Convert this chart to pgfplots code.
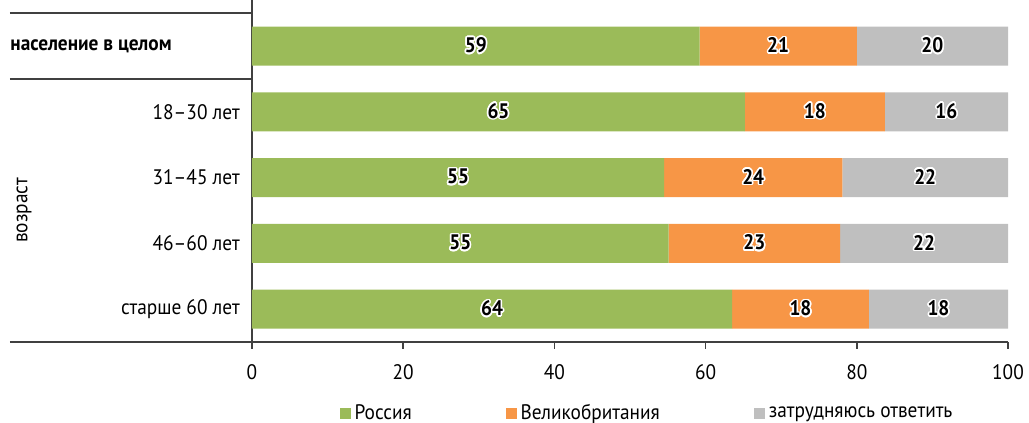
\documentclass[border=0pt]{standalone}
\usepackage{fontspec}
\setmainfont{PT Sans}[FakeStretch=0.92]
\usepackage{pgfplots}
\pgfplotsset{compat=1.18}
\usepackage{pgfplotstable}
\usepackage{contour}
\contourlength{0.8pt}
\definecolor{cGreen}{HTML}{9BBB59}
\definecolor{cOrange}{HTML}{F79646}
\definecolor{cGray}{HTML}{BFBFBF}
\definecolor{cLine}{HTML}{404040}
\newcommand{\fs}{\fontsize{10.5}{12.5}\selectfont}

% bar lengths
\pgfplotstableread{
y   ru    uk    dk
4   59.2  20.8  20.0
3   65.2  18.5  16.3
2   54.5  23.6  21.9
1   55.1  22.7  22.2
0   63.5  18.1  18.4
}\bars
% label positions (segment centres) and printed values
\pgfplotstableread{
y   xr     lr  xu     lu  xd     ld
4   29.6   59  69.6   21  90.0   20
3   32.6   65  74.45  18  91.85  16
2   27.25  55  66.3   24  89.05  22
1   27.55  55  66.45  23  88.9   22
0   31.75  64  72.55  18  90.8   18
}\labels

\begin{document}
\begin{tikzpicture}
\useasboundingbox (-126pt,-40.5pt) rectangle (388.5pt,171pt);
\pgfplotsset{
  base/.style={
    width=378pt, height=171pt, scale only axis,
    xmin=0, xmax=100, ymin=-0.5, ymax=4.7,
  }
}
\begin{axis}[
  base,
  xbar stacked,
  bar width=19.5pt,
  axis x line=bottom, axis y line=left,
  axis line style={-, cLine, line width=0.75pt},
  xtick={0,20,40,60,80,100},
  tick align=outside,
  major tick length=3.5pt,
  xtick style={cLine, line width=0.75pt},
  ytick={0,1,2,3},
  yticklabels={старше 60 лет, 46–60 лет, 31–45 лет, 18–30 лет},
  ytick style={draw=none},
  /pgf/number format/assume math mode=true,
  tick label style={font=\fs, black},
  xticklabel style={yshift=-4pt},
  yticklabel style={xshift=1pt},
  clip=false,
  legend style={draw=none, at={(0.5238,-0.208)}, anchor=center,
    font=\fs,
    /tikz/every even column/.append style={column sep=45pt}},
  legend columns=3,
  legend image code/.code={\fill[#1] (0pt,-2.75pt) rectangle (5.5pt,2.75pt);},
]
\addplot[fill=cGreen, draw=none] table[x=ru, y=y] {\bars};
\addplot[fill=cOrange, draw=none] table[x=uk, y=y] {\bars};
\addplot[fill=cGray, draw=none] table[x=dk, y=y] {\bars};
\legend{Россия, Великобритания, затрудняюсь ответить}
\draw[cLine, line width=0.75pt] ([xshift=-121pt]axis cs:0,4.5) -- (axis cs:0,4.5);
\draw[cLine, line width=0.75pt] ([xshift=-121pt]axis cs:0,3.5) -- (axis cs:0,3.5);
\draw[cLine, line width=0.75pt] ([xshift=-121pt]axis cs:0,-0.5) -- (axis cs:0,-0.5);
\node[anchor=west, inner sep=0pt, font=\bfseries\fs] at ([xshift=-121pt]axis cs:0,4) {население в целом};
\node[rotate=90, anchor=center, font=\fs] at ([xshift=-114pt]axis cs:0,1.5) {возраст};
\end{axis}
\begin{axis}[
  base, hide axis,
  nodes near coords={\contour{white}{\pgfplotspointmeta}},
  point meta=explicit symbolic,
  every node near coord/.append style={anchor=center, inner sep=0pt,
    font=\bfseries\fs},
]
\addplot[draw=none] table[x=xr, y=y, meta=lr] {\labels};
\addplot[draw=none] table[x=xu, y=y, meta=lu] {\labels};
\addplot[draw=none] table[x=xd, y=y, meta=ld] {\labels};
\end{axis}
\end{tikzpicture}
\end{document}
